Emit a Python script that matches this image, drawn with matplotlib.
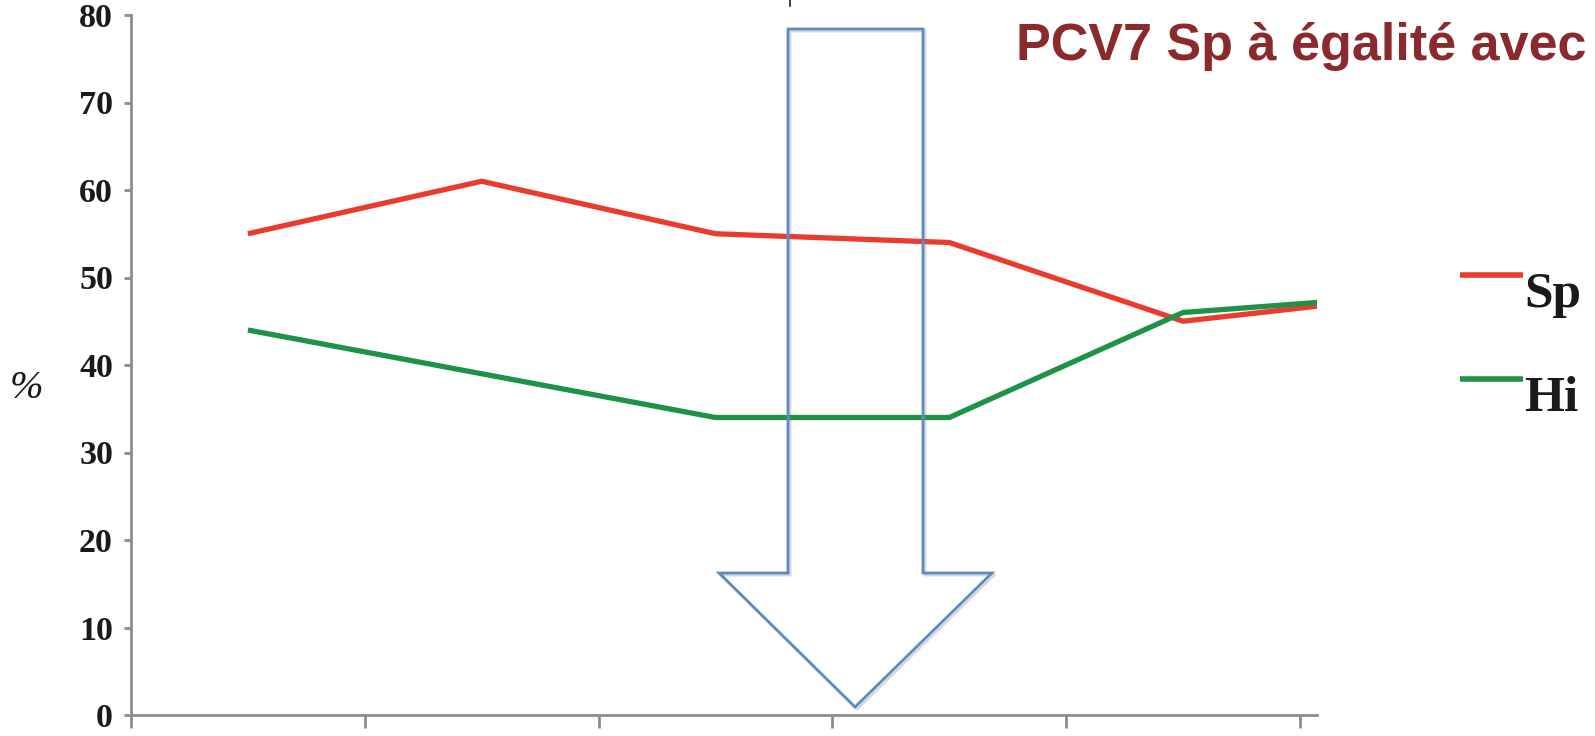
import numpy as np
import matplotlib.pyplot as plt
from matplotlib import font_manager
from matplotlib.lines import Line2D
from matplotlib.patches import Polygon
import matplotlib.patheffects as pe

# carriage rates per survey period (%), the last period runs off the axis
periods = [0, 1, 2, 3, 4, 5]
sp_values = [55, 61, 55, 54, 45, 48]
hi_values = [44, 39, 34, 34, 46, 48]
series_names = ["Sp", "Hi"]
series_colors = ["#ea3b2e", "#1e9247"]
yticks = [0, 10, 20, 30, 40, 50, 60, 70, 80]

W, H = 1595, 736
fig = plt.figure(figsize=(W / 100, H / 100), dpi=100)
fig.patch.set_facecolor("white")

def fx(px):
    return px / W

def fy(py):
    return 1 - py / H

# narrow sans for the heading if it is there
try:
    font_manager.findfont(font_manager.FontProperties(family="Liberation Sans Narrow",
                                                      weight="bold"),
                          fallback_to_default=False)
    title_font, title_size = "Liberation Sans Narrow", 43
except ValueError:
    title_font, title_size = "Liberation Sans", 37.5

ax = fig.add_axes([fx(131), fy(715), fx(1317) - fx(131), fy(15) - fy(715)])
ax.set_facecolor("white")

for vals, col in zip([sp_values, hi_values], series_colors):
    ax.plot(periods, vals, color=col, lw=3.8, solid_capstyle="butt",
            solid_joinstyle="miter", zorder=3)

ax.set_xlim(-0.5, 4.573)
ax.set_ylim(0, 80)
ax.set_yticks(yticks)
ax.set_yticklabels([str(v) for v in yticks], fontfamily="Liberation Serif",
                   fontweight="bold", fontsize=24.5, color="#1a1a1a")
ax.set_xticks(np.arange(-0.5, 5, 1))
ax.set_xticklabels([])
ax.tick_params(axis="y", length=5, width=2, color="#8c8c8c", pad=8)
ax.tick_params(axis="x", length=9, width=2, color="#8c8c8c")
for s in ["top", "right"]:
    ax.spines[s].set_visible(False)
for s in ["left", "bottom"]:
    ax.spines[s].set_color("#8c8c8c")
    ax.spines[s].set_linewidth(2)

fig.text(fx(26), fy(388), "%", fontfamily="Liberation Serif", fontstyle="italic",
         fontsize=29, ha="center", va="center", color="#1a1a1a")

# legend drawn by hand: short stroke sitting at the top of each label
for i, (name, col) in enumerate(zip(series_names, series_colors)):
    ly = 275 + i * 104
    fig.add_artist(Line2D([fx(1460), fx(1523)], [fy(ly), fy(ly)], color=col,
                          lw=4, solid_capstyle="butt"))
    fig.text(fx(1524), fy(ly + 20), name, fontfamily="Liberation Serif",
             fontweight="bold", fontsize=37, ha="left", va="center",
             color="#1a1a1a")

# down arrow outline
arrow_px = [(788, 29), (923, 29), (923, 573), (992, 573), (855, 707),
            (719, 573), (788, 573)]
arrow = Polygon([(fx(x), fy(y)) for x, y in arrow_px], closed=True, fill=False,
                edgecolor="#5b8bc6", lw=2, joinstyle="miter",
                transform=fig.transFigure, zorder=5)
arrow.set_path_effects([pe.SimpleLineShadow(offset=(1.5, -1.5), shadow_color="gray",
                                            alpha=0.3), pe.Normal()])
fig.add_artist(arrow)

# stray stroke left over from a line of text above the frame
fig.add_artist(Line2D([fx(790), fx(790)], [fy(0), fy(6)], color="#222222", lw=1.2))

fig.text(fx(1016), fy(60), "PCV7 Sp à égalité avec", fontfamily=title_font,
         fontweight="bold", fontsize=title_size, color="#8b2a2c", ha="left",
         va="baseline")

fig.savefig("out.png", dpi=100, facecolor="white")
